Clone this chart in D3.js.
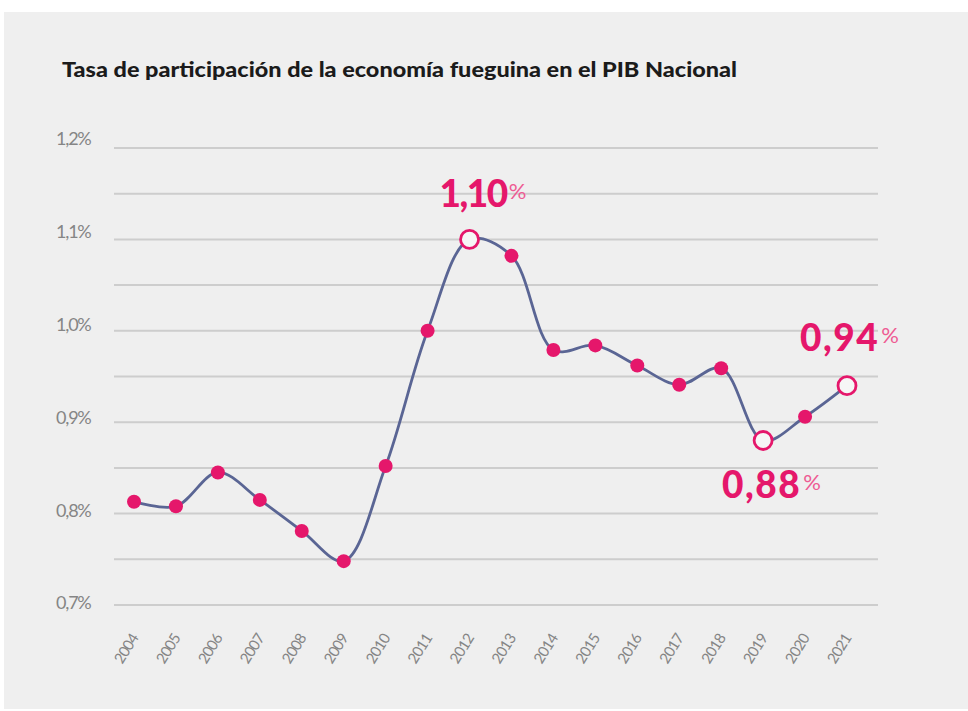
<!DOCTYPE html>
<html>
<head>
<meta charset="utf-8">
<script src="https://cdn.jsdelivr.net/npm/d3@7"></script>
<style>
  html, body { margin: 0; padding: 0; background: #ffffff; }
  svg { display: block; }
</style>
</head>
<body>
<div id="chart"></div>
<script>
// Data
var years = ["2004", "2005", "2006", "2007", "2008", "2009", "2010", "2011", "2012",
             "2013", "2014", "2015", "2016", "2017", "2018", "2019", "2020", "2021"];
var share = [0.813, 0.808, 0.845, 0.815, 0.781, 0.748, 0.852, 1.0, 1.10,
             1.082, 0.979, 0.984, 0.962, 0.941, 0.959, 0.88, 0.906, 0.94];
var yTicks = [0.7, 0.8, 0.9, 1.0, 1.1, 1.2];
var yGrid = [0.7, 0.75, 0.8, 0.85, 0.9, 0.95, 1.0, 1.05, 1.1, 1.15, 1.2];
var highlights = ["2012", "2019", "2021"];
var highlightText = ["1,10", "0,88", "0,94"];

var W = 968, H = 711;
var pink = "#e5176b", lineCol = "#5a6594";

var svg = d3.select("#chart").append("svg")
    .attr("width", W)
    .attr("height", H);

// light panel
svg.append("rect")
    .attr("x", 4).attr("y", 12)
    .attr("width", W - 4).attr("height", H - 14)
    .attr("fill", "#efefef");

// title
svg.append("text")
    .attr("x", 62)
    .attr("y", 77)
    .attr("textLength", 675)
    .attr("lengthAdjust", "spacingAndGlyphs")
    .style("font-family", "Lato, 'Open Sans', sans-serif")
    .style("font-weight", 900)
    .style("font-size", "20px")
    .style("fill", "#1b1b1b")
    .text("Tasa de participación de la economía fueguina en el PIB Nacional");

// scales
var x = d3.scalePoint()
    .domain(years)
    .range([134, 847]);
var y = d3.scaleLinear()
    .domain([0.7, 1.2])
    .range([605, 148]);
// tick labels sit on a slightly wider spacing than the grid
var yLab = d3.scaleLinear()
    .domain([0.7, 1.2])
    .range([603, 139]);

// gridlines
svg.append("g")
    .selectAll("line")
    .data(yGrid)
    .join("line")
    .attr("x1", 114)
    .attr("x2", 878)
    .attr("y1", function(d) { return y(d); })
    .attr("y2", function(d) { return y(d); })
    .attr("stroke", "#cdcdcd")
    .attr("stroke-width", 2);

// Y axis labels
svg.append("g")
    .selectAll("text")
    .data(yTicks)
    .join("text")
    .attr("x", 56)
    .attr("y", function(d) { return yLab(d); })
    .attr("dy", "0.35em")
    .style("font-family", "Lato, sans-serif")
    .style("font-size", "18px")
    .style("letter-spacing", "-1.2px")
    .style("fill", "#858585")
    .text(function(d) { return d3.format(".1f")(d).replace(".", ",") + "%"; });

// X axis labels
svg.append("g")
    .selectAll("text")
    .data(years)
    .join("text")
    .attr("transform", function(d) { return "translate(" + (x(d) + 5) + ",638) rotate(-58)"; })
    .style("text-anchor", "end")
    .style("font-family", "Lato, sans-serif")
    .style("font-size", "15px")
    .style("letter-spacing", "-0.8px")
    .style("fill", "#858585")
    .text(function(d) { return d; });

// line
var line = d3.line()
    .x(function(d, i) { return x(years[i]); })
    .y(function(d) { return y(d); })
    .curve(d3.curveCatmullRom.alpha(0.5));

svg.append("path")
    .datum(share)
    .attr("d", line)
    .attr("fill", "none")
    .attr("stroke", lineCol)
    .attr("stroke-width", 2.8);

// points
var pts = years.map(function(yr, i) { return {year: yr, v: share[i]}; });

svg.append("g")
    .selectAll("circle")
    .data(pts.filter(function(d) { return highlights.indexOf(d.year) < 0; }))
    .join("circle")
    .attr("cx", function(d) { return x(d.year); })
    .attr("cy", function(d) { return y(d.v); })
    .attr("r", 7)
    .attr("fill", pink);

svg.append("g")
    .selectAll("circle")
    .data(pts.filter(function(d) { return highlights.indexOf(d.year) >= 0; }))
    .join("circle")
    .attr("cx", function(d) { return x(d.year); })
    .attr("cy", function(d) { return y(d.v); })
    .attr("r", 9)
    .attr("fill", "#f6f6f6")
    .attr("stroke", pink)
    .attr("stroke-width", 2.8);

// value callouts (number + small "%" in one text)
var callPos = [{dx: -30, dy: -32, ls: -1.5}, {dx: -41, dy: 58, ls: 1.5}, {dx: -47, dy: -35, ls: 1.5}];
highlights.forEach(function(yr, i) {
    var i0 = years.indexOf(yr);
    var t = svg.append("text")
        .attr("x", x(yr) + callPos[i].dx)
        .attr("y", y(share[i0]) + callPos[i].dy)
        .style("font-family", "Lato, sans-serif")
        .style("fill", pink);
    t.append("tspan")
        .style("font-weight", 900)
        .style("font-size", "37px")
        .style("letter-spacing", callPos[i].ls + "px")
        .text(highlightText[i]);
    t.append("tspan")
        .attr("dx", 2)
        .attr("dy", -8)
        .style("font-weight", 400)
        .style("font-size", "22px")
        .style("letter-spacing", "0px")
        .style("fill", "#ee5b93")
        .text("%");
});
</script>
</body>
</html>
